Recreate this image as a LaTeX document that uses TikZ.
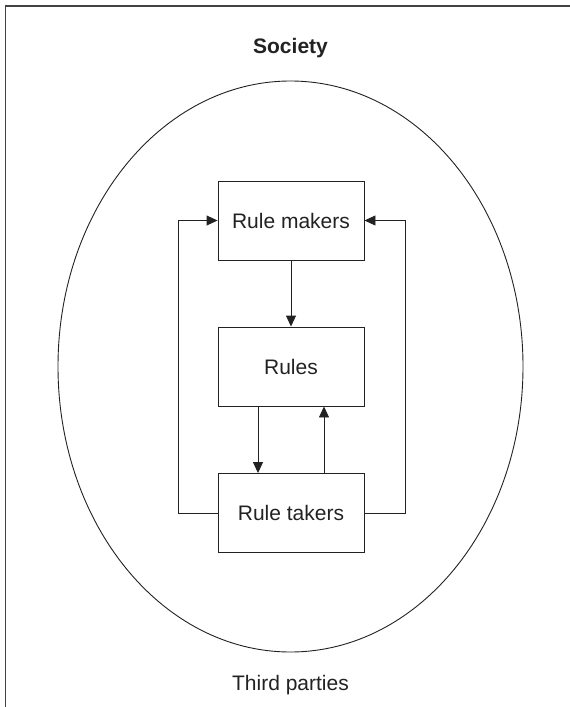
\documentclass[tikz,border=0pt]{standalone}
\usepackage{fontspec}
\setmainfont{Liberation Sans}
\usetikzlibrary{arrows.meta,shapes.geometric}
\definecolor{ink}{HTML}{222222}
\begin{document}
\begin{tikzpicture}[x=1pt,y=-1pt,
  every node/.style={font=\fontsize{21}{25}\selectfont, text=ink},
  rbox/.style={draw=ink, line width=0.9pt, minimum width=146pt, minimum height=79pt, inner sep=0pt},
  conn/.style={draw=ink, line width=0.9pt},
  arr/.style={conn, -{Triangle[length=11pt,width=10pt]}},
  frame/.style={draw=ink!85, line width=1.5pt}]
\useasboundingbox (0,0) rectangle (570,707);
\coordinate (fbl) at (5.5,707);
\coordinate (ftl) at (5.5,6);
\coordinate (ftr) at (570,6);
\draw[frame] (fbl) -- (ftl) -- (ftr);
\node[draw=ink, line width=0.9pt, ellipse, minimum width=465pt, minimum height=571pt, inner sep=0pt] (soc) at (290.5,366.5) {};
\node[anchor=base, font=\fontsize{21}{25}\selectfont\bfseries] (society) at (290.5,53) {Society};
\node[anchor=base] (third) at (290.5,690) {Third parties};
\node[rbox] (makers) at (291,220.5) {Rule makers};
\node[rbox] (rules) at (291,366.5) {Rules};
\node[rbox] (takers) at (291,513) {Rule takers};
\draw[arr] (makers.south) -- (rules.north);
\draw[arr] ([xshift=-33pt]rules.south) -- ([xshift=-33pt]takers.north);
\draw[arr] ([xshift=33pt]takers.north) -- ([xshift=33pt]rules.south);
\coordinate (lb) at (178,513);
\coordinate (lt) at (178,220.5);
\coordinate (rb) at (405,513);
\coordinate (rt) at (405,220.5);
\draw[arr] (takers.west) -- (lb) -- (lt) -- (makers.west);
\draw[arr] (takers.east) -- (rb) -- (rt) -- (makers.east);
\end{tikzpicture}
\end{document}
